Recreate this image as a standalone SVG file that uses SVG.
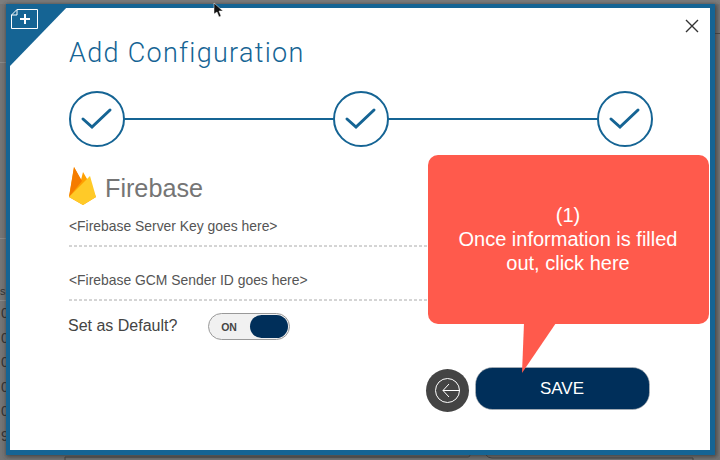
<svg xmlns="http://www.w3.org/2000/svg" width="720" height="460" viewBox="0 0 720 460">
<defs><filter id="blur" x="-5%" y="-5%" width="110%" height="110%"><feGaussianBlur stdDeviation="2"/></filter></defs>
<style>
.s{font-family:"Liberation Sans",Arial,sans-serif}
.step{fill:#fff;stroke:#156494;stroke-width:2}
.chk{fill:none;stroke:#156494;stroke-width:3;stroke-linecap:round;stroke-linejoin:miter}
.dash{stroke:#aaa;stroke-width:1;stroke-dasharray:3 2}
.hint{font-size:13.900px;fill:#555}
.call{font-size:20px;fill:#fff;text-anchor:middle}
</style>
<rect width="720" height="460" fill="#757575"/>
<rect x="0" y="0" width="720" height="4" fill="#7d7d7d"/>
<rect x="0" y="62" width="6" height="1" fill="#8a8a8a"/>
<rect x="0" y="238" width="6" height="1" fill="#8a8a8a"/>
<rect x="0" y="300" width="6" height="1" fill="#8a8a8a"/>
<rect x="715" y="33" width="5" height="1" fill="#4a4a4a"/>
<g fill="#333" class="s" font-size="14">
<text x="0" y="295" font-size="11">s</text><text x="1" y="318">0</text><text x="1" y="343">0</text><text x="1" y="367">0</text><text x="1" y="392">0</text><text x="1" y="416">0</text><text x="1" y="441">9</text>
</g>
<path d="M65,460 V457 H468 Q470,457 470,455 M486,455 Q488,458 492,458 H693 V460" fill="none" stroke="#444" stroke-width="1"/>
<rect x="6" y="4" width="711" height="453" fill="#333" opacity="0.7" filter="url(#blur)"/>
<rect x="6" y="4" width="709" height="451" fill="#156494"/>
<rect x="10" y="8" width="700" height="442" fill="#fff"/>
<g id="corner">
<polygon points="6,4 70,4 10,66 6,66" fill="#156494"/>
<path d="M11.500,15 L17,9.500 H37.500 V28.500 H11.500 Z M11.500,15 H17 V9.500" fill="none" stroke="#fff" stroke-width="1"/>
<path d="M25,14 V24 M20,19 H30" stroke="#fff" stroke-width="2" fill="none"/>
</g>
<text id="title" x="69" y="62" style="font-family:Roboto,sans-serif;font-weight:300;letter-spacing:1.300px" font-size="27" fill="#156494">Add Configuration</text>
<g id="close"><path d="M686,20 L698,32 M698,20 L686,32" stroke="#333" stroke-width="1.400"/></g>
<g id="connectors">
<path d="M124,119 H334 M388,119 H598" stroke="#156494" stroke-width="2" fill="none"/>
</g>
<g id="step1"><circle class="step" cx="97" cy="119" r="27"/><path class="chk" d="M83,119 L92,127 L110,110"/></g>
<g id="step2"><circle class="step" cx="361" cy="119" r="27"/><path class="chk" d="M347,119 L356,127 L374,110"/></g>
<g id="step3"><circle class="step" cx="625" cy="119" r="27"/><path class="chk" d="M611,119 L620,127 L638,110"/></g>
<g id="firebase">
<path d="M69,197 L74,167 L81,180 L83,172 L90,184 L96,197 L83,205 Z" fill="#ffa000"/>
<path d="M69,197 L74,167 L82,181 Z" fill="#f57c00"/>
<path d="M69,197 L90,176 L96,197 L83,205 Z" fill="#ffca28"/>
<text x="105" y="197" class="s" font-size="25.200" fill="#757575">Firebase</text>
</g>
<g id="field1"><text x="69" y="231" class="s hint">&lt;Firebase Server Key goes here&gt;</text><line class="dash" x1="69" y1="246" x2="430" y2="246"/></g>
<g id="field2"><text x="69" y="285" class="s hint">&lt;Firebase GCM Sender ID goes here&gt;</text><line class="dash" x1="69" y1="300" x2="434" y2="300"/></g>
<g id="default">
<text x="68" y="331" class="s" font-size="16" fill="#444">Set as Default?</text>
<rect x="208.500" y="313.500" width="81" height="26" rx="13" fill="#f1f1f1" stroke="#999"/>
<rect x="250" y="315" width="38" height="23" rx="11.500" fill="#002f5a"/>
<text x="229" y="331" class="s" font-size="10.500" font-weight="bold" text-anchor="middle" fill="#444">ON</text>
</g>
<g id="back">
<circle cx="447.500" cy="390.500" r="21.500" fill="#444"/>
<circle cx="447.500" cy="390.500" r="12" fill="none" stroke="#fff" stroke-width="1"/>
<path d="M460,390.500 H443 M449,384 L443,390.500 L449,397" fill="none" stroke="#fff" stroke-width="1"/>
</g>
<g id="save">
<rect x="475.500" y="367.500" width="174" height="42" rx="17" fill="#002f5a" stroke="#bbb" stroke-width="0.600"/>
<text x="562" y="394" class="s" font-size="17" text-anchor="middle" fill="#fff">SAVE</text>
</g>
<g id="callout">
<rect x="428" y="155" width="281" height="169" rx="10" fill="#ff5a4c"/>
<path d="M524,323 L522,373 L556,323 Z" fill="#ff5a4c"/>
<text x="568" y="222" class="s call">(1)</text>
<text x="568" y="246" class="s call">Once information is filled</text>
<text x="568" y="270" class="s call">out, click here</text>
</g>
<g id="cursor"><path d="M214,3 L214,14 L217,12 L219,17 L221,16 L219,11 L223,11 Z" fill="#111" stroke="#fff" stroke-width="0.500"/></g>
</svg>
